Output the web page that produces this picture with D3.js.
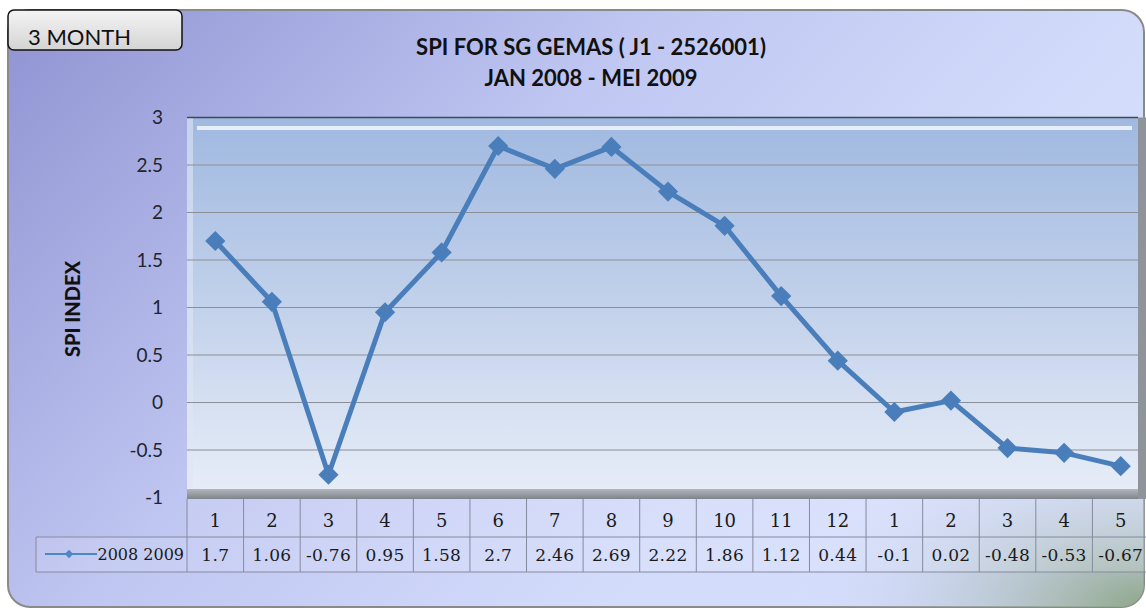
<!DOCTYPE html>
<html>
<head>
<meta charset="utf-8">
<script src="https://cdn.jsdelivr.net/npm/d3@7"></script>
<style>
  body { margin: 0; background: #fff; }
  svg { display: block; }
</style>
</head>
<body>
<div id="chart"></div>
<script>
const months = ["1", "2", "3", "4", "5", "6", "7", "8", "9", "10", "11", "12", "1", "2", "3", "4", "5"];
const spi = [1.7, 1.06, -0.76, 0.95, 1.58, 2.7, 2.46, 2.69, 2.22, 1.86, 1.12, 0.44, -0.1, 0.02, -0.48, -0.53, -0.67];
const yTicks = [-1, -0.5, 0, 0.5, 1, 1.5, 2, 2.5, 3];
const seriesName = "2008 2009";

const width = 1146, height = 610;
const plotLeft = 187, plotRight = 1138, plotTop = 117.5, plotBottom = 497.5;

const svg = d3.select("#chart")
  .append("svg")
  .attr("width", width)
  .attr("height", height);

const defs = svg.append("defs");

// outer background gradient (purple top-left -> pale right)
const bg = defs.append("linearGradient").attr("id", "bg")
  .attr("x1", 0).attr("y1", 0).attr("x2", 1).attr("y2", 0.5);
bg.append("stop").attr("offset", "0%").attr("stop-color", "#8f93d2");
bg.append("stop").attr("offset", "45%").attr("stop-color", "#bfc6f1");
bg.append("stop").attr("offset", "80%").attr("stop-color", "#d3dbfb");
bg.append("stop").attr("offset", "100%").attr("stop-color", "#d5ddfc");

const green = defs.append("radialGradient").attr("id", "green")
  .attr("cx", 1).attr("cy", 1).attr("r", 0.3);
green.append("stop").attr("offset", "0%").attr("stop-color", "#8fa688").attr("stop-opacity", 1);
green.append("stop").attr("offset", "100%").attr("stop-color", "#cbd6f4").attr("stop-opacity", 0);

const plotBg = defs.append("linearGradient").attr("id", "plotbg")
  .attr("x1", 0).attr("y1", 0).attr("x2", 0).attr("y2", 1);
plotBg.append("stop").attr("offset", "0%").attr("stop-color", "#a0b9e0");
plotBg.append("stop").attr("offset", "55%").attr("stop-color", "#c6d4ec");
plotBg.append("stop").attr("offset", "100%").attr("stop-color", "#e8eef8");

const bevel = defs.append("linearGradient").attr("id", "bevel")
  .attr("x1", 0).attr("y1", 0).attr("x2", 0).attr("y2", 1);
bevel.append("stop").attr("offset", "0%").attr("stop-color", "#b3b7bd");
bevel.append("stop").attr("offset", "100%").attr("stop-color", "#7f838b");

const btn = defs.append("linearGradient").attr("id", "btn")
  .attr("x1", 0).attr("y1", 0).attr("x2", 0).attr("y2", 1);
btn.append("stop").attr("offset", "0%").attr("stop-color", "#f4f4f4");
btn.append("stop").attr("offset", "100%").attr("stop-color", "#d4d4d4");

// chart background
svg.append("rect")
  .attr("x", 8).attr("y", 10).attr("width", 1136).attr("height", 597).attr("rx", 22)
  .attr("fill", "url(#bg)").attr("stroke", "#8a8a8a").attr("stroke-width", 2);
svg.append("rect")
  .attr("x", 8).attr("y", 10).attr("width", 1136).attr("height", 597).attr("rx", 22)
  .attr("fill", "url(#green)");

// "3 MONTH" tag
svg.append("rect")
  .attr("x", 8).attr("y", 10).attr("width", 174).attr("height", 40).attr("rx", 6)
  .attr("fill", "url(#btn)").attr("stroke", "#111").attr("stroke-width", 1.5);
svg.append("text")
  .attr("x", 28).attr("y", 45)
  .style("font-family", "Lato, 'Open Sans', sans-serif")
  .style("font-size", "22px")
  .style("fill", "#111")
  .text("3 MONTH");

// title
const title = svg.append("text")
  .attr("text-anchor", "middle")
  .style("font-family", "Lato, 'Open Sans', sans-serif")
  .style("font-weight", "bold")
  .style("font-size", "22px")
  .style("fill", "#111");
title.append("tspan").attr("x", 591).attr("y", 55).text("SPI FOR SG GEMAS ( J1 - 2526001)");
title.append("tspan").attr("x", 591).attr("y", 86).text("JAN 2008 - MEI 2009");

// scales
const x = d3.scaleBand()
  .domain(d3.range(months.length))
  .range([plotLeft, 1149]);

const y = d3.scaleLinear()
  .domain([-1, 3])
  .range([plotBottom, plotTop]);

// plot area with bevel
svg.append("rect")
  .attr("x", plotLeft).attr("y", plotTop).attr("width", plotRight - plotLeft).attr("height", plotBottom - plotTop)
  .attr("fill", "url(#plotbg)");
svg.append("rect")
  .attr("x", plotLeft).attr("y", 489).attr("width", 1146 - plotLeft).attr("height", 10)
  .attr("fill", "url(#bevel)");
svg.append("rect")
  .attr("x", plotRight).attr("y", plotTop).attr("width", 9).attr("height", 499 - plotTop)
  .attr("fill", "#8f949b");
svg.append("line")
  .attr("x1", plotLeft + 10).attr("x2", plotRight - 6).attr("y1", 128).attr("y2", 128)
  .attr("stroke", "#f4f8ff").attr("stroke-width", 4).attr("opacity", 0.85);
svg.append("rect")
  .attr("x", plotLeft).attr("y", plotTop).attr("width", 6).attr("height", 371)
  .attr("fill", "#dfe6f3").attr("opacity", 0.6);
svg.append("line")
  .attr("x1", plotLeft).attr("x2", plotRight).attr("y1", plotTop).attr("y2", plotTop)
  .attr("stroke", "#404850").attr("stroke-width", 1.5);

// gridlines
svg.append("g")
  .selectAll("line")
  .data(yTicks.filter(d => d > -1 && d < 3))
  .enter()
  .append("line")
  .attr("x1", plotLeft).attr("x2", plotRight)
  .attr("y1", d => y(d)).attr("y2", d => y(d))
  .attr("stroke", "#8c8f96").attr("stroke-width", 1.2);

// y axis
const yAxis = svg.append("g")
  .attr("transform", `translate(${plotLeft},0)`)
  .call(d3.axisLeft(y).tickValues(yTicks).tickSize(0).tickPadding(24).tickFormat(d => String(d)));
yAxis.select(".domain").remove();
yAxis.selectAll("text")
  .style("font-family", "Lato, 'Open Sans', sans-serif")
  .style("font-size", "19px")
  .style("fill", "#1f2430");

svg.append("text")
  .attr("transform", "translate(80,309) rotate(-90)")
  .attr("text-anchor", "middle")
  .style("font-family", "Lato, 'Open Sans', sans-serif")
  .style("font-weight", "900")
  .style("font-size", "20px")
  .style("fill", "#111")
  .text("SPI INDEX");

// line + markers
const line = d3.line()
  .x((d, i) => x(i) + x.bandwidth() / 2)
  .y(d => y(d));

svg.append("path")
  .datum(spi)
  .attr("d", line)
  .attr("fill", "none")
  .attr("stroke", "#4a7ebb")
  .attr("stroke-width", 5)
  .attr("stroke-linejoin", "round");

svg.append("g")
  .selectAll("path")
  .data(spi)
  .enter()
  .append("path")
  .attr("d", d3.symbol().type(d3.symbolDiamond2).size(260))
  .attr("transform", (d, i) => `translate(${x(i) + x.bandwidth() / 2},${y(d)})`)
  .attr("fill", "#4a7ebb");

// data table
const rowTop = 499, rowMid = 537, rowBot = 572, legendLeft = 36;
const tbl = svg.append("g");
tbl.append("rect")
  .attr("x", plotLeft).attr("y", rowTop).attr("width", 1150 - plotLeft).attr("height", rowMid - rowTop)
  .attr("fill", "#ffffff").attr("opacity", 0.12);
tbl.append("rect")
  .attr("x", legendLeft).attr("y", rowMid).attr("width", 1150 - legendLeft).attr("height", rowBot - rowMid)
  .attr("fill", "#ffffff").attr("opacity", 0.12);

const gridColor = "#868a9e";
tbl.selectAll("line.col")
  .data(d3.range(months.length))
  .enter()
  .append("line")
  .attr("class", "col")
  .attr("x1", d => x(d)).attr("x2", d => x(d))
  .attr("y1", rowTop).attr("y2", rowBot)
  .attr("stroke", gridColor);
tbl.append("line").attr("x1", legendLeft).attr("x2", 1150).attr("y1", rowMid).attr("y2", rowMid).attr("stroke", gridColor);
tbl.append("line").attr("x1", legendLeft).attr("x2", 1150).attr("y1", rowBot).attr("y2", rowBot).attr("stroke", gridColor);
tbl.append("line").attr("x1", legendLeft).attr("x2", legendLeft).attr("y1", rowMid).attr("y2", rowBot).attr("stroke", gridColor);

tbl.selectAll("text.month")
  .data(months)
  .enter()
  .append("text")
  .attr("class", "month")
  .attr("x", (d, i) => x(i) + x.bandwidth() / 2)
  .attr("y", 527)
  .attr("text-anchor", "middle")
  .style("font-family", "'DejaVu Serif', serif")
  .style("font-size", "18px")
  .style("fill", "#1a1a1a")
  .text(d => d);

tbl.selectAll("text.val")
  .data(spi)
  .enter()
  .append("text")
  .attr("class", "val")
  .attr("x", (d, i) => x(i) + x.bandwidth() / 2)
  .attr("y", 561)
  .attr("text-anchor", "middle")
  .style("font-family", "'DejaVu Serif', serif")
  .style("font-size", "17px")
  .style("letter-spacing", "0.3px")
  .style("fill", "#1a1a1a")
  .text(d => d);

// legend key
tbl.append("line")
  .attr("x1", 45).attr("x2", 97).attr("y1", 554).attr("y2", 554)
  .attr("stroke", "#4f86c6").attr("stroke-width", 2);
tbl.append("path")
  .attr("d", d3.symbol().type(d3.symbolDiamond2).size(45))
  .attr("transform", "translate(69,554)")
  .attr("fill", "#4f86c6");
tbl.append("text")
  .attr("x", 184).attr("y", 560)
  .attr("text-anchor", "end")
  .style("font-family", "'DejaVu Serif', serif")
  .style("font-size", "16px")
  .style("fill", "#1a1a1a")
  .text(seriesName);
</script>
</body>
</html>
